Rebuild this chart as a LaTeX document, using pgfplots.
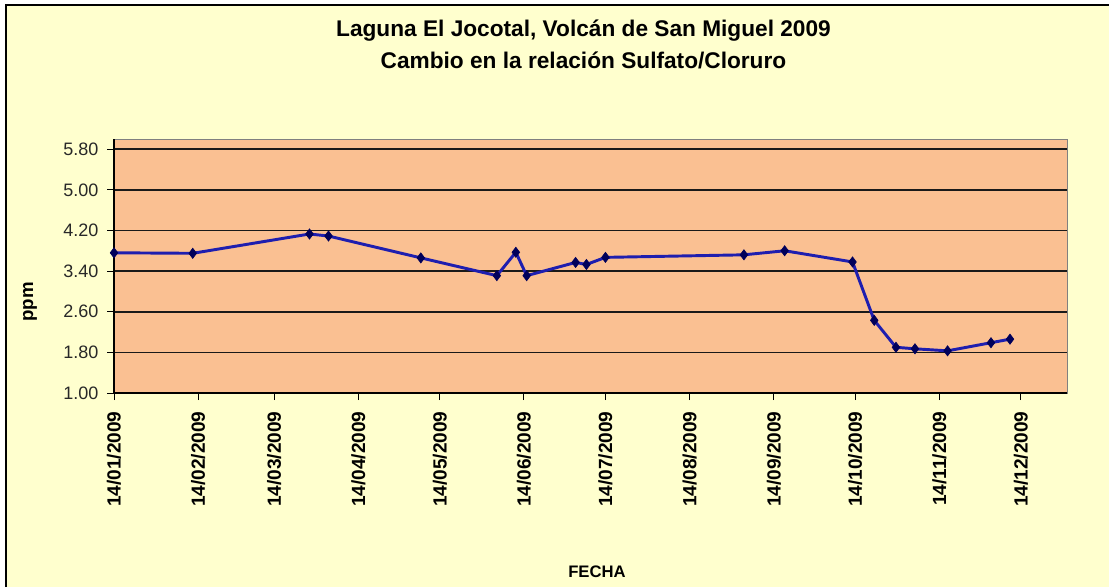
\documentclass[border=0pt]{standalone}
\usepackage{fontspec}
\setmainfont{Liberation Sans}
\usepackage{pgfplots}
\pgfplotsset{compat=1.18}
\definecolor{bgy}{RGB}{255,255,206}
\definecolor{plotbg}{RGB}{250,192,146}
\definecolor{ln}{RGB}{30,30,175}
\definecolor{mk}{RGB}{0,0,90}
\definecolor{tk}{RGB}{40,40,40}
\begin{document}
\begin{tikzpicture}
\useasboundingbox (0,0) rectangle (831.75pt,440.25pt);
\fill[white] (0,0) rectangle (831.75pt,440.25pt);
\fill[bgy] (4.5pt,0) rectangle (831.75pt,436.5pt);
\draw[black, line width=0.8pt] (4.5pt,0) -- (4.5pt,436.5pt) -- (831.75pt,436.5pt);
\begin{axis}[
  at={(85.5pt,145.5pt)}, anchor=south west,
  scale only axis, width=714.75pt, height=190.5pt,
  xmin=0, xmax=351, ymin=1, ymax=6,
  axis background/.style={fill=plotbg},
  axis line style={draw=gray, line width=0.75pt},
  tick align=outside, xtick pos=bottom, ytick pos=left,
  major tick length=5.25pt,
  tick style={black, line width=0.75pt},
  ytick={1,1.8,2.6,3.4,4.2,5,5.8},
  ymajorgrids, grid style={black!90, line width=1.2pt},
  xtick={0,31,59,90,120,151,181,212,243,273,304,334},
  xticklabels={14/01/2009,14/02/2009,14/03/2009,14/04/2009,14/05/2009,14/06/2009,14/07/2009,14/08/2009,14/09/2009,14/10/2009,14/11/2009,14/12/2009},
  xticklabel shift=5pt,
  yticklabel shift=3pt,
  x tick label style={rotate=90, anchor=east, font=\fontsize{14.3}{14.3}\selectfont\bfseries},
  y tick label style={text=tk, font=\fontsize{13.5}{13.5}\selectfont, /pgf/number format/.cd, fixed, fixed zerofill, precision=2, assume math mode=true},
  clip=false,
]
\draw[black, line width=0.9pt] (rel axis cs:0,1) -- (rel axis cs:0,0) -- (rel axis cs:1,0);
\addplot[ln, line width=2.2pt, mark=diamond*, mark size=3.8pt, mark options={fill=mk, draw=mk, line width=0.5pt}] coordinates {
(0,3.76) (29,3.75) (72,4.13) (79,4.09) (113,3.66) (141,3.31) (148,3.77) (152,3.31)
(170,3.57) (174,3.53) (181,3.67) (232,3.72) (247,3.80) (272,3.58) (280,2.43)
(288,1.90) (295,1.87) (307,1.83) (323,1.99) (330,2.06)
};
\end{axis}
\node[font=\fontsize{17}{20}\selectfont\bfseries, anchor=base] at (437.6pt,412.5pt) {Laguna El Jocotal, Volcán de San Miguel 2009};
\node[font=\fontsize{17}{20}\selectfont\bfseries, anchor=base] at (437.6pt,388.5pt) {Cambio en la relación Sulfato/Cloruro};
\node[font=\fontsize{14}{14}\selectfont\bfseries, rotate=90] at (22.5pt,213.75pt) {ppm};
\node[font=\fontsize{12.5}{12.5}\selectfont\bfseries] at (447.75pt,11.25pt) {FECHA};
\end{tikzpicture}
\end{document}
